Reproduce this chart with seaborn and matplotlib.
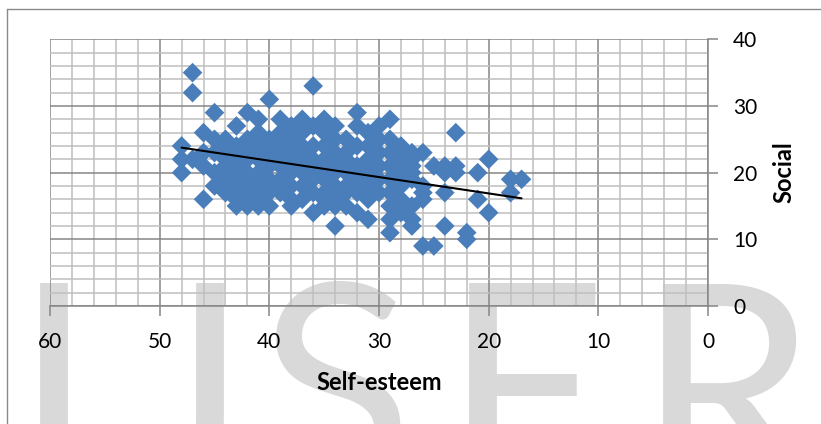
import numpy as np
import pandas as pd
import matplotlib
matplotlib.use("Agg")
import matplotlib.pyplot as plt
import seaborn as sns
from matplotlib.ticker import MultipleLocator
from matplotlib.lines import Line2D

# ---- data ----
rows = {
    35: [47],
    33: [36],
    32: [47],
    31: [40],
    29: [45, 42, 32],
    28: [41, 39, 37, 35, 29],
    27: [43, 38, 36, 34, 32, 30],
    26: [46, 41, 39, 37, 35, 31, 23],
    25: [45, 44, 42, 40, 38, 34, 33, 30, 29],
    24: [48, 44, 43, 41, 39, 37, 36, 35, 32, 31, 28],
    23: [46, 45, 43, 42, 40, 38, 37, 34, 33, 30, 29, 27, 26],
    22: [48, 47, 44, 42, 41, 39, 38, 36, 35, 33, 31, 28, 27, 20],
    21: [46, 44, 43, 40, 39, 37, 36, 34, 32, 30, 29, 27, 25, 24, 23],
    20: [48, 45, 43, 42, 41, 38, 37, 35, 34, 33, 31, 28, 27, 24, 23, 21],
    19: [44, 42, 40, 39, 36, 35, 32, 30, 29, 27, 18, 17],
    18: [45, 43, 41, 40, 38, 37, 34, 33, 31, 28, 26],
    17: [44, 42, 40, 39, 36, 35, 33, 32, 30, 29, 26, 24, 18],
    16: [46, 43, 41, 38, 37, 35, 34, 31, 28, 26, 21],
    15: [43, 42, 41, 40, 38, 35, 34, 33, 29, 27],
    14: [36, 32, 28, 20],
    13: [31, 29, 27],
    12: [34, 27, 24],
    11: [29, 22],
    10: [22],
    9: [26, 25],
}
self_esteem = [x for yv, xs in rows.items() for x in xs]
social = [yv for yv, xs in rows.items() for x in xs]

trend_x = [48, 17]
trend_y = [23.75, 16.15]

x_ticks = [60, 50, 40, 30, 20, 10, 0]
y_ticks = [0, 10, 20, 30, 40]
x_label = "Self-esteem"
y_label = "Social"
watermark = ["I", "J", "S", "E", "R"]

df = pd.DataFrame({"Self-esteem": self_esteem, "Social": social})
tdf = pd.DataFrame({"x": trend_x, "y": trend_y})

# ---- style ----
sns.set_theme(style="white")
plt.rcParams["font.family"] = ["Lato", "DejaVu Sans"]

W, H = 821, 424
fig = plt.figure(figsize=(W / 100, H / 100), dpi=100)

# watermark (behind everything)
wm_pos = [53.5, 187, 335, 525, 726]
for ch, px in zip(watermark, wm_pos):
    fig.text(px / W, 1 - 488 / H, ch, fontsize=206, color="#d9d9d9",
             ha="center", va="baseline", zorder=0, family=["Lato", "DejaVu Sans"])

# figure border
bc = "#8a8a8a"
fig.add_artist(Line2D([7 / W, 7 / W], [0, 1 - 9 / H], transform=fig.transFigure, color=bc, lw=1.0))
fig.add_artist(Line2D([7 / W, 1], [1 - 9 / H, 1 - 9 / H], transform=fig.transFigure, color=bc, lw=1.0))

ax = fig.add_axes([50 / W, 1 - 306 / H, 658 / W, (306 - 39.3) / H])
ax.set_facecolor("none")
ax.set_zorder(2)

sns.scatterplot(data=df, x="Self-esteem", y="Social", marker="D", s=100,
                color="#4a7ebb", edgecolor="none", linewidth=0, ax=ax, zorder=3)
sns.lineplot(data=tdf, x="x", y="y", color="black", lw=1.5, ax=ax, zorder=4)

ax.set_xlim(60, 0)
ax.set_ylim(0, 40)
ax.set_xticks(x_ticks)
ax.set_yticks(y_ticks)
ax.xaxis.set_minor_locator(MultipleLocator(2))
ax.yaxis.set_minor_locator(MultipleLocator(2))
ax.yaxis.tick_right()
ax.yaxis.set_label_position("right")

ax.grid(which="minor", color="#bfbfbf", lw=1.1, zorder=1)
ax.grid(which="major", color="#868686", lw=1.1, zorder=1)
ax.set_axisbelow(True)

for s in ["top", "left"]:
    ax.spines[s].set_visible(False)
for s in ["bottom", "right"]:
    ax.spines[s].set_color("#868686")
    ax.spines[s].set_linewidth(1.1)

ax.tick_params(which="minor", length=0)
ax.tick_params(axis="x", which="major", direction="out", length=7, width=1.1,
               color="#868686", labelsize=15, pad=11.5, labelcolor="black", bottom=True)
ax.tick_params(axis="y", which="major", direction="out", length=7, width=1.1,
               color="#868686", labelsize=15, pad=11, labelcolor="black", right=True, left=False)

ax.set_xlabel(x_label, fontsize=17, fontweight="bold", color="black")
ax.set_ylabel(y_label, fontsize=17, fontweight="bold", color="black", rotation=90)
ax.xaxis.set_label_coords(0.5, (306 - 382) / 266.7)
ax.xaxis.label.set_va("center")
ax.yaxis.set_label_coords((784 - 50) / 658, (306 - 172) / 266.7)
ax.yaxis.label.set_va("center")
ax.yaxis.label.set_ha("center")

fig.savefig("out.png", dpi=100)
